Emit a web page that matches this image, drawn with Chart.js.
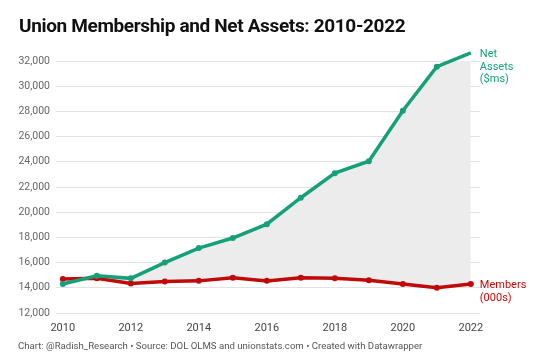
<!DOCTYPE html>
<html>
<head>
<meta charset="utf-8">
<script src="https://cdn.jsdelivr.net/npm/chart.js@4"></script>
<style>
	body { margin: 0; background: #fff; font-family: Roboto, sans-serif; }
	#wrap { position: relative; width: 540px; height: 361px; }
	#title { position: absolute; left: 19px; top: 14px; font-size: 19px; font-weight: 700; color: #111; letter-spacing: -0.35px; }
	#foot { position: absolute; left: 18px; top: 340px; font-size: 9.6px; color: #555; }
	canvas { position: absolute; left: 0; top: 0; }
</style>
</head>
<body>
<div id="wrap">
	<canvas id="chart" width="540" height="361"></canvas>
	<div id="title">Union Membership and Net Assets: 2010-2022</div>
	<div id="foot">Chart: @Radish_Research • Source: DOL OLMS and unionstats.com • Created with Datawrapper</div>
</div>
<script>
const years = [2010, 2011, 2012, 2013, 2014, 2015, 2016, 2017, 2018, 2019, 2020, 2021, 2022];
const netAssets = [14300, 14950, 14750, 16000, 17150, 17950, 19050, 21150, 23100, 24050, 28050, 31550, 32650];
const members = [14700, 14750, 14350, 14500, 14550, 14800, 14550, 14800, 14750, 14600, 14300, 14000, 14300];
const xTicks = [2010, 2012, 2014, 2016, 2018, 2020, 2022];
const yTicks = [12000, 14000, 16000, 18000, 20000, 22000, 24000, 26000, 28000, 30000, 32000];

const GREEN = "#16a07a";
const RED = "#c00a0a";

// ================ end labels ================
const endLabels = {
	id: "endLabels",
	afterDatasetsDraw(chart) {
		const ctx = chart.ctx;
		const items = [
			{ ds: 0, lines: ["Net", "Assets", "($ms)"], color: GREEN },
			{ ds: 1, lines: ["Members", "(000s)"], color: RED },
		];
		ctx.save();
		ctx.font = "11px Roboto";
		ctx.textBaseline = "middle";
		ctx.textAlign = "left";
		for (const it of items) {
			const meta = chart.getDatasetMeta(it.ds);
			const pt = meta.data[meta.data.length - 1];
			ctx.fillStyle = it.color;
			it.lines.forEach((l, i) => {
				ctx.fillText(l, pt.x + 9, pt.y + 1.5 + i * 12.5);
			});
		}
		ctx.restore();
	},
};

const chart = new Chart(document.getElementById("chart"), {
	type: "line",
	data: {
		datasets: [
			{
				label: "Net Assets ($ms)",
				data: years.map((y, i) => ({ x: y, y: netAssets[i] })),
				borderColor: GREEN,
				backgroundColor: GREEN,
				borderWidth: 3.5,
				pointRadius: 3,
				pointBorderWidth: 0,
				fill: { target: "+1", above: "#ececec", below: "rgba(0,0,0,0)" },
				clip: false,
				tension: 0,
			},
			{
				label: "Members (000s)",
				data: years.map((y, i) => ({ x: y, y: members[i] })),
				borderColor: RED,
				backgroundColor: RED,
				borderWidth: 3.5,
				pointRadius: 3,
				pointBorderWidth: 0,
				fill: false,
				clip: false,
				tension: 0,
			},
		],
	},
	options: {
		responsive: false,
		animation: false,
		devicePixelRatio: 1,
		layout: { padding: { top: 61, right: 60, bottom: 28, left: 0 } },
		plugins: {
			legend: { display: false },
			tooltip: { enabled: false },
			filler: { drawTime: "beforeDatasetsDraw" },
		},
		scales: {
			x: {
				type: "linear",
				min: 2009.8,
				max: 2022.27,
				afterBuildTicks: (s) => { s.ticks = xTicks.map((v) => ({ value: v })); },
				afterFit: (s) => { s.height = 20; },
				grid: { display: false },
				border: { display: false },
				ticks: {
					font: { family: "Roboto", size: 11 },
					color: "#444",
					padding: 1,
					maxRotation: 0,
					callback: (v) => String(v),
				},
			},
			y: {
				min: 12000,
				max: 32000,
				afterBuildTicks: (s) => { s.ticks = yTicks.map((v) => ({ value: v })); },
				afterFit: (s) => { s.width = 56; },
				grid: { color: "#e2e2e2", drawTicks: false, lineWidth: 1 },
				border: { display: false },
				ticks: {
					font: { family: "Roboto", size: 10.5 },
					color: "#666",
					padding: 6,
					callback: (v) => v.toLocaleString("en-US"),
				},
			},
		},
	},
	plugins: [endLabels],
});
</script>
</body>
</html>
